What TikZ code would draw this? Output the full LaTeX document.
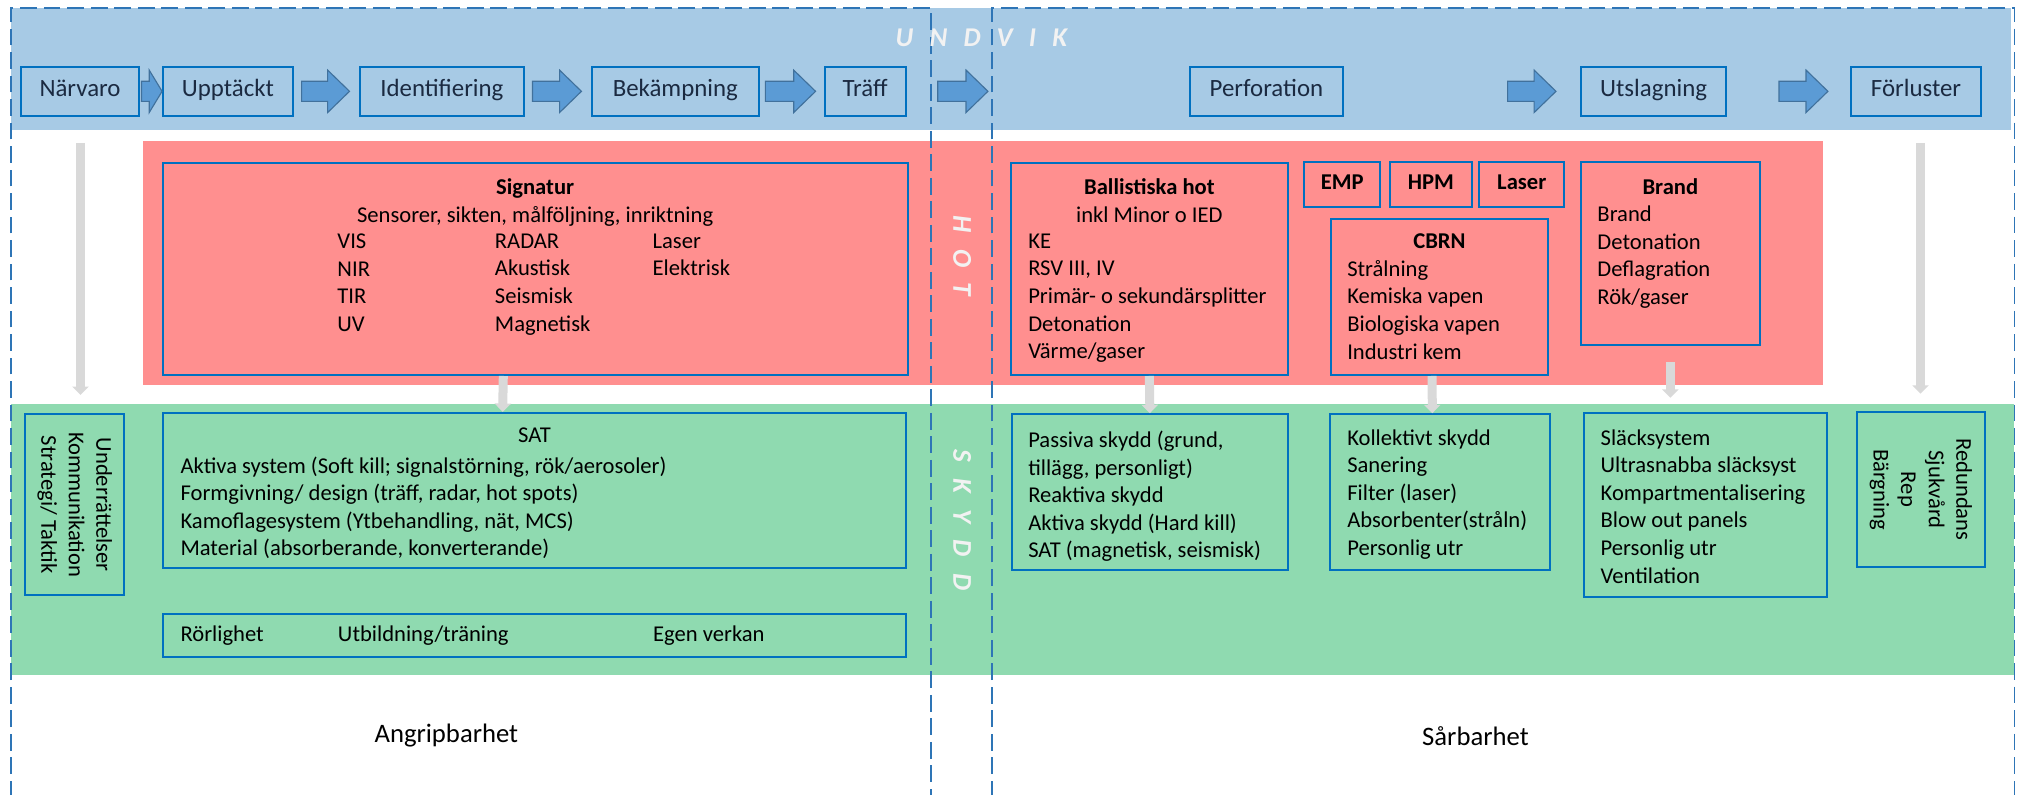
\documentclass[tikz,border=0pt]{standalone}
\usepackage{fontspec}
\setmainfont{Carlito}
\usepackage{xcolor}
\usepackage{tikz}
\usetikzlibrary{arrows.meta,fit}

\definecolor{bandblue}{HTML}{A7CAE5}
\definecolor{hotred}{HTML}{FF8F8F}
\definecolor{skyddgreen}{HTML}{8FDAB0}
\definecolor{boxblue}{HTML}{0070C0}
\definecolor{dashblue}{HTML}{2E75B6}
\definecolor{arrfill}{HTML}{5B9BD5}
\definecolor{arrline}{HTML}{41719C}
\definecolor{flowgray}{HTML}{D9D9D9}
\definecolor{navytext}{HTML}{1B2A41}
\definecolor{offwhite}{HTML}{F2F2F2}

\tikzset{
  band/.style={fill=#1, draw=none, inner sep=0pt},
  frame/.style={draw=boxblue, line width=0.9pt, inner sep=0pt},
  stagetxt/.style={inner sep=0pt, text=navytext, font=\fontsize{11}{13}\selectfont,
    text height=7.5pt, text depth=2.5pt},
  boldtxt/.style={inner sep=0pt, font=\bfseries, text height=7pt, text depth=2.5pt},
  txt/.style={inner sep=0pt, align=left},
  flow/.style={draw=arrline, fill=arrfill, line width=0.5pt},
  down/.style={draw=flowgray, line width=0.14cm, -{Triangle[width=0.25cm,length=0.13cm]}},
  dashline/.style={draw=dashblue, line width=0.8pt, dash pattern=on 7.4pt off 3pt},
  bandlabel/.style={inner sep=0pt, text=offwhite,
    font=\fontsize{12}{14}\selectfont\bfseries\itshape\addfontfeatures{LetterSpace=60}},
  bottomlbl/.style={inner sep=0pt, font=\fontsize{11.8}{14}\selectfont}
}

\begin{document}
\begin{tikzpicture}[x=0.02cm, y=-0.02cm, font=\fontsize{10}{12.2}\selectfont]
  \useasboundingbox (0,0) rectangle (1568,618);
  % bands
  \node[band=bandblue, fit={(8.5,6.5) (1563,101)}] (undvik) {};
  \node[band=hotred, fit={(111.5,110) (1417.5,299.5)}] (hot) {};
  \node[band=skyddgreen, fit={(8.5,314) (1566,524.7)}] (skydd) {};
  % dashed halves
  \draw[dashline] (8.5,620) -- (8.5,6) -- (724,6) -- (724,620);
  \draw[dashline] (771,620) -- (771,6) -- (1566,6) -- (1566,620);
  \node[bandlabel] (undviklbl) at (763,29) {UNDVIK};
  \node[bandlabel, rotate=-90] (hotlbl) at (748,199) {HOT};
  \node[bandlabel, rotate=-90] (skyddlbl) at (748,404) {SKYDD};

  % chain in the top band
  \foreach \nm/\xa/\xb/\txt in {narvaro/16.4/108/Närvaro, upptackt/126.4/228/Upptäckt,
      ident/280/407/Identifiering, bekamp/460/590/Bekämpning, traff/641/704/Träff,
      perfor/925/1044/Perforation, utslag/1229/1342/Utslagning, forlust/1439/1540/Förluster}
  {
    \node[frame, fit={(\xa,52) (\xb,90)}] (\nm) {};
    \node[stagetxt] (\nm txt) at (\nm.center) {\txt};
  }
  \foreach \xa/\xb/\hl in {110/126/10, 234.5/271.7/17, 414/452/17, 595/634/17,
      729/768/17, 1172/1209.6/17, 1383/1421/17}
    \draw[flow] (\xa,63.2) -- (\xb-\hl,63.2) -- (\xb-\hl,54.5) -- (\xb,71)
      -- (\xb-\hl,87.5) -- (\xb-\hl,78.8) -- (\xa,78.8) -- cycle;

  % HOT
  \node[frame, fit={(127,127) (705.5,291.5)}] (sig) {};
  \node[txt, align=center, anchor=north] (sighead) at (416,138.5)
    {\textbf{Signatur}\\Sensorer, sikten, målföljning, inriktning};
  \node[txt, anchor=north west] (sigvis) at (262,181.4) {VIS\\NIR\\TIR\\UV};
  \node[txt, anchor=north west] (sigradar) at (384.4,181.4) {RADAR\\Akustisk\\Seismisk\\Magnetisk};
  \node[txt, anchor=north west] (siglaser) at (507,181.4) {Laser\\Elektrisk};

  \node[frame, fit={(786,127) (1001,291.5)}] (ball) {};
  \node[txt, align=center, anchor=north] (ballhead) at (893.5,138.5)
    {\textbf{Ballistiska hot}\\inkl Minor o IED};
  \node[txt, anchor=north west] (balllist) at (799,181.4)
    {KE\\RSV III, IV\\Primär- o sekundärsplitter\\Detonation\\Värme/gaser};

  \foreach \nm/\xa/\xb/\txt in {emp/1014/1073/EMP, hpm/1080.6/1144/HPM, laser/1150/1216/Laser}
  {
    \node[frame, fit={(\xa,126) (\xb,161)}] (\nm) {};
    \node[boldtxt] (\nm txt) at (\nm.center) {\txt};
  }

  \node[frame, fit={(1035,170) (1203.5,291.5)}] (cbrn) {};
  \node[txt, anchor=north] (cbrnhead) at (1119,181.4) {\textbf{CBRN}};
  \node[txt, anchor=north west] (cbrnlist) at (1047,202)
    {Strålning\\Kemiska vapen\\Biologiska vapen\\Industri kem};

  \node[frame, fit={(1229,126) (1368,268)}] (brand) {};
  \node[txt, anchor=north] (brandhead) at (1298.5,138.5) {\textbf{Brand}};
  \node[txt, anchor=north west] (brandlist) at (1241.5,159.6)
    {Brand\\Detonation\\Deflagration\\Rök/gaser};

  % SKYDD
  \node[frame, fit={(19.8,322) (96.5,462.6)}] (lvert) {};
  \node[txt, align=center, rotate=-90] (lverttxt) at (lvert.center)
    {Underrättelser\\Kommunikation\\Strategi/ Taktik};

  \node[frame, fit={(127,321) (704.5,441.7)}] (sat) {};
  \node[txt, anchor=north] (sathead) at (415.5,332) {SAT};
  \node[txt, anchor=north west] (satlist) at (140,354.7)
    {Aktiva system (Soft kill; signalstörning, rök/aerosoler)\\
     Formgivning/ design (träff, radar, hot spots)\\
     Kamoflagesystem (Ytbehandling, nät, MCS)\\
     Material (absorberande, konverterande)};

  \node[frame, fit={(127,477.5) (704.5,510.6)}] (rorlig) {};
  \node[txt, anchor=west] (rorl) at (140,494) {Rörlighet};
  \node[txt, anchor=west] (utbild) at (262.4,494) {Utbildning/träning};
  \node[txt, anchor=west] (egen) at (507.4,494) {Egen verkan};

  \node[frame, fit={(786.5,322) (1001.3,443)}] (passiva) {};
  \node[txt, anchor=north west] (passivalist) at (799,334.7)
    {Passiva skydd (grund,\\tillägg, personligt)\\Reaktiva skydd\\Aktiva skydd (Hard kill)\\SAT (magnetisk, seismisk)};

  \node[frame, fit={(1034,322) (1205,443)}] (kollektiv) {};
  \node[txt, anchor=north west] (kollektivlist) at (1047,333.5)
    {Kollektivt skydd\\Sanering\\Filter (laser)\\Absorbenter(stråln)\\Personlig utr};

  \node[frame, fit={(1231,321) (1420,464)}] (slack) {};
  \node[txt, anchor=north west] (slacklist) at (1244,333.5)
    {Släcksystem\\Ultrasnabba släcksyst\\Kompartmentalisering\\Blow out panels\\Personlig utr\\Ventilation};

  \node[frame, fit={(1443.6,320) (1543,441)}] (rvert) {};
  \node[txt, align=center, rotate=-90] (rverttxt) at (rvert.center)
    {Redundans\\Sjukvård\\Rep\\Bärgning};

  % grey arrows down
  \coordinate (lefttop) at (62.6,111);
  \coordinate (leftbot) at (62.6,307);
  \coordinate (righttop) at (1493,111);
  \coordinate (rightbot) at (1493,306);
  \draw[down] (lefttop) -- (leftbot);
  \draw[down] (righttop) -- (rightbot);
  \draw[down] ([xshift=-0.5cm]sig.south) -- ([xshift=-0.5cm]sat.north);
  \draw[down] (ball.south) -- (passiva.north);
  \draw[down] ([xshift=-0.12cm]cbrn.south) -- ([xshift=-0.12cm]kollektiv.north);
  \draw[down, shorten <=0.26cm, shorten >=0.22cm] (brand.south) -- (brand.south |- slack.north);

  \node[bottomlbl] (angrip) at (347,572) {Angripbarhet};
  \node[bottomlbl] (sarbar) at (1147,572) {Sårbarhet};
\end{tikzpicture}
\end{document}
